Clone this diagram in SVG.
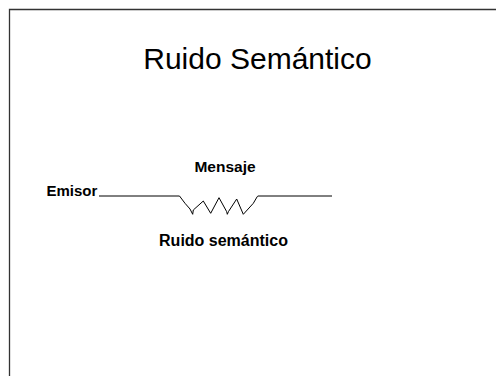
<svg xmlns="http://www.w3.org/2000/svg" width="496" height="376" viewBox="0 0 496 376">
<style>
.lbl{font-family:"Liberation Sans",Arial,sans-serif;font-weight:bold;font-size:15px;fill:#000}
.ttl{font-family:"Liberation Sans",Arial,sans-serif;font-size:30px;fill:#000}
.ln{fill:none;stroke:#000;stroke-width:1}
</style>
<rect width="496" height="376" fill="#fff"/>
<path d="M9.5,380 V9.5 H500" fill="none" stroke="#333" stroke-width="1.3"/>
<g id="title"><text class="ttl" x="257.5" y="68.5" text-anchor="middle">Ruido Semántico</text></g>
<g id="emisor"><text class="lbl" x="46.5" y="196">Emisor</text></g>
<g id="mensaje"><text class="lbl" x="225" y="172.3" text-anchor="middle" style="font-size:15.5px">Mensaje</text></g>
<g id="ruido"><text class="lbl" x="223.5" y="246" text-anchor="middle" style="font-size:16px">Ruido semántico</text></g>
<g id="connectors">
<path class="ln" d="M99,196 H179.5 L185,203.3 L190,209 L192.7,214.3 L193.3,210 L203.3,201 L210.7,213.3 L219,197.7 L226.7,211.7 L227.3,214.3 L228.5,211.5 L236.7,199 L243.3,214.3 L253.3,203.3 L257.3,196.5 L258,196 H332"/>
</g>
</svg>
